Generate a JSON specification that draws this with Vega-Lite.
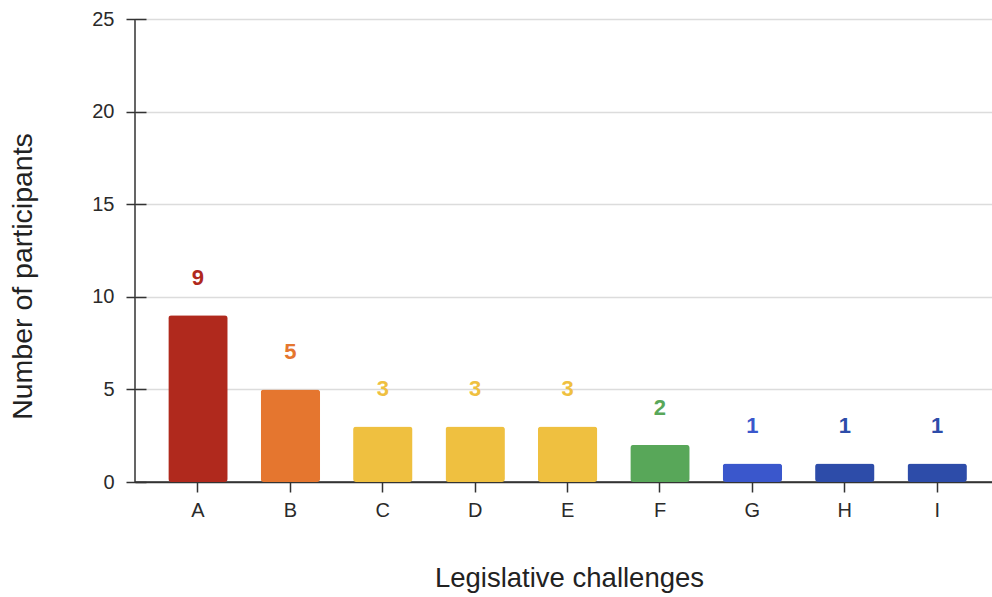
{
  "$schema": "https://vega.github.io/schema/vega-lite/v6.json",
  "width": 857,
  "height": 463,
  "autosize": {"type": "none"},
  "padding": {"left": 135, "top": 19, "right": 0, "bottom": 115},
  "background": "white",
  "config": {
    "font": "Liberation Sans",
    "view": {"stroke": "#333333", "strokeWidth": 1.5, "strokeDash": [0, 1320, 1320]}
  },
  "data": {
    "values": [
      {"challenge": "A", "participants": 9, "tier": "t1"},
      {"challenge": "B", "participants": 5, "tier": "t2"},
      {"challenge": "C", "participants": 3, "tier": "t3"},
      {"challenge": "D", "participants": 3, "tier": "t3"},
      {"challenge": "E", "participants": 3, "tier": "t3"},
      {"challenge": "F", "participants": 2, "tier": "t4"},
      {"challenge": "G", "participants": 1, "tier": "t5"},
      {"challenge": "H", "participants": 1, "tier": "t6"},
      {"challenge": "I", "participants": 1, "tier": "t6"}
    ]
  },
  "encoding": {
    "x": {
      "field": "challenge",
      "type": "nominal",
      "sort": null,
      "scale": {"paddingInner": 0.357, "paddingOuter": 0.316, "align": 0.57},
      "axis": {
        "title": "Legislative challenges",
        "titleFontSize": 27.5,
        "titleFontWeight": "normal",
        "titleColor": "#222222",
        "titleX": 434,
        "titleY": 106,
        "titleBaseline": "middle",
        "titleAlign": "center",
        "labelAngle": 0,
        "labelFontSize": 20,
        "labelColor": "#2a2a2a",
        "labelPadding": 8,
        "domain": false,
        "offset": -10,
        "tickSize": 20,
        "tickWidth": 1.5,
        "tickColor": "#333333"
      }
    },
    "y": {
      "field": "participants",
      "type": "quantitative",
      "scale": {"domain": [0, 25], "nice": false},
      "axis": {
        "title": "Number of participants",
        "titleFontSize": 28.5,
        "titleFontWeight": "normal",
        "titleColor": "#222222",
        "titleAngle": 270,
        "titleX": -124,
        "titleY": 257,
        "titleBaseline": "middle",
        "titleAlign": "center",
        "values": [0, 5, 10, 15, 20, 25],
        "labelFontSize": 20,
        "labelColor": "#2a2a2a",
        "labelPadding": 12,
        "domain": false,
        "offset": -11,
        "tickSize": 20,
        "tickWidth": 1.5,
        "tickColor": "#333333",
        "grid": true,
        "gridColor": {"condition": {"test": "datum.value === 0", "value": "#333333"}, "value": "#dcdcdc"},
        "gridWidth": 1.5
      }
    },
    "color": {
      "field": "tier",
      "type": "nominal",
      "scale": {
        "domain": ["t1", "t2", "t3", "t4", "t5", "t6"],
        "range": ["#b0291d", "#e5762f", "#efc040", "#58a759", "#3a57cc", "#2d4ca9"]
      },
      "legend": null
    }
  },
  "layer": [
    {"mark": {"type": "bar", "cornerRadius": 3}},
    {
      "mark": {"type": "text", "baseline": "alphabetic", "dy": -30, "fontSize": 22, "fontWeight": "bold"},
      "encoding": {"text": {"field": "participants", "type": "quantitative"}}
    }
  ]
}
